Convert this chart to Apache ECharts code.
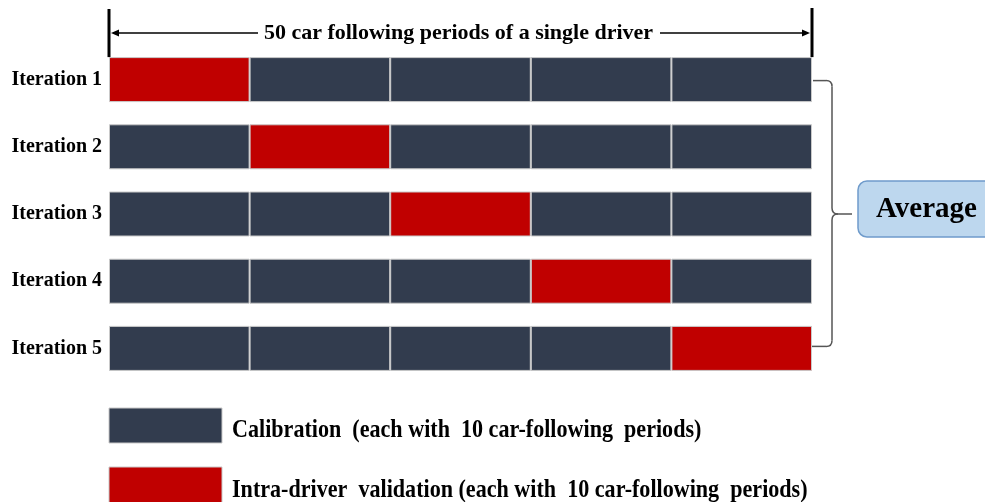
<!DOCTYPE html>
<html>
<head>
<meta charset="utf-8">
<script src="https://cdn.jsdelivr.net/npm/echarts@6/dist/echarts.min.js"></script>
<style>
  html, body { margin: 0; padding: 0; background: #fff; }
  #chart { width: 985px; height: 502px; }
</style>
</head>
<body>
<div id="chart"></div>
<script>
// rows (iterations) and folds of the 50 periods
const iterations = ['Iteration 1', 'Iteration 2', 'Iteration 3', 'Iteration 4', 'Iteration 5']
const folds = ['Fold 1', 'Fold 2', 'Fold 3', 'Fold 4', 'Fold 5']
// periods in each fold
const foldSize = [10, 10, 10, 10, 10]
// which fold is held out for validation in each iteration
const validationFold = [0, 1, 2, 3, 4]
const titleText = '50 car following periods of a single driver'
const legendText = [
  'Calibration  (each with  10 car-following  periods)',
  'Intra-driver  validation (each with  10 car-following  periods)'
]

const calibColor = '#323c4e'
const validColor = '#c00000'
const serif = '"Liberation Serif", "Times New Roman", serif'

const dom = document.getElementById('chart')
const chart = echarts.init(dom, null, { renderer: 'canvas' })

const series = folds.map((name, f) => ({
  name: name,
  type: 'bar',
  stack: 'all',
  barWidth: 45,
  data: iterations.map((it, i) => ({
    value: foldSize[f],
    itemStyle: { color: validationFold[i] === f ? validColor : calibColor }
  })),
  itemStyle: { borderColor: '#c9c9c9', borderWidth: 1 },
  emphasis: { disabled: true }
}))

const option = {
  animation: false,
  backgroundColor: '#fff',
  grid: { left: 109, right: 173, top: 46, bottom: 120 },
  xAxis: {
    type: 'value',
    min: 0,
    max: foldSize.reduce((a, b) => a + b, 0),
    show: false
  },
  yAxis: {
    type: 'category',
    inverse: true,
    data: iterations,
    axisLine: { show: false },
    axisTick: { show: false },
    axisLabel: {
      margin: 7,
      color: '#000',
      fontFamily: serif,
      fontWeight: 'bold',
      fontSize: 20
    }
  },
  series: series
}
chart.setOption(option)

// pixel positions from the axes
const xStart = chart.convertToPixel({ gridIndex: 0 }, [0, 0])[0]
const xEnd = chart.convertToPixel({ gridIndex: 0 }, [option.xAxis.max, 0])[0]
const yTop = chart.convertToPixel({ gridIndex: 0 }, [0, 0])[1]
const yBot = chart.convertToPixel({ gridIndex: 0 }, [0, iterations.length - 1])[1]
const yMid = (yTop + yBot) / 2
const barTop = yTop - 22.5
const arrowY = 33
const titleLeft = 260
const titleRight = 657

const bx = xEnd + 20
const brace = { stroke: '#555', lineWidth: 1.5, fill: null }
const graphics = [
  // span marker
  { type: 'line', shape: { x1: xStart, y1: 9, x2: xStart, y2: barTop }, style: { stroke: '#000', lineWidth: 3 } },
  { type: 'line', shape: { x1: xEnd, y1: 8, x2: xEnd, y2: barTop }, style: { stroke: '#000', lineWidth: 3 } },
  { type: 'line', shape: { x1: xStart + 4, y1: arrowY, x2: titleLeft - 2, y2: arrowY }, style: { stroke: '#000', lineWidth: 1.5 } },
  { type: 'line', shape: { x1: titleRight + 3, y1: arrowY, x2: xEnd - 4, y2: arrowY }, style: { stroke: '#000', lineWidth: 1.5 } },
  { type: 'polygon', shape: { points: [[xStart + 2, arrowY], [xStart + 10, arrowY - 3.5], [xStart + 10, arrowY + 3.5]] }, style: { fill: '#000' } },
  { type: 'polygon', shape: { points: [[xEnd - 2, arrowY], [xEnd - 10, arrowY - 3.5], [xEnd - 10, arrowY + 3.5]] }, style: { fill: '#000' } },
  {
    type: 'text', x: (titleLeft + titleRight) / 2, y: arrowY,
    style: { text: titleText, font: 'bold 22px ' + serif, fill: '#000', align: 'center', verticalAlign: 'middle' }
  },
  // brace
  { type: 'line', shape: { x1: xEnd + 1, y1: yTop + 1, x2: bx - 6, y2: yTop + 1 }, style: brace },
  { type: 'bezierCurve', shape: { x1: bx - 6, y1: yTop + 1, cpx1: bx, cpy1: yTop + 1, x2: bx, y2: yTop + 7 }, style: brace },
  { type: 'line', shape: { x1: bx, y1: yTop + 7, x2: bx, y2: yMid - 6 }, style: brace },
  { type: 'bezierCurve', shape: { x1: bx, y1: yMid - 6, cpx1: bx, cpy1: yMid, x2: bx + 6, y2: yMid }, style: brace },
  { type: 'bezierCurve', shape: { x1: bx, y1: yMid + 6, cpx1: bx, cpy1: yMid, x2: bx + 6, y2: yMid }, style: brace },
  { type: 'line', shape: { x1: bx + 6, y1: yMid, x2: bx + 20, y2: yMid }, style: brace },
  { type: 'line', shape: { x1: bx, y1: yMid + 6, x2: bx, y2: yBot - 8 }, style: brace },
  { type: 'bezierCurve', shape: { x1: bx, y1: yBot - 8, cpx1: bx, cpy1: yBot - 2, x2: bx - 6, y2: yBot - 2 }, style: brace },
  { type: 'line', shape: { x1: bx - 6, y1: yBot - 2, x2: xEnd - 1, y2: yBot - 2 }, style: brace },
  // average box
  {
    type: 'rect', shape: { x: 858, y: yMid - 33, width: 150, height: 56, r: 9 },
    style: { fill: '#bdd7ee', stroke: '#6f9bcb', lineWidth: 1.5 }
  },
  {
    type: 'text', x: 876, y: yMid - 4,
    style: { text: 'Average', font: 'bold 29px ' + serif, fill: '#000', verticalAlign: 'middle' }
  },
  // legend
  { type: 'rect', shape: { x: xStart, y: 408, width: 113, height: 35 }, style: { fill: calibColor, stroke: '#c9c9c9', lineWidth: 1 } },
  { type: 'rect', shape: { x: xStart, y: 467, width: 113, height: 36 }, style: { fill: validColor, stroke: '#c9c9c9', lineWidth: 1 } },
  {
    type: 'text', x: 232, y: 430, scaleX: 0.85,
    style: { text: legendText[0], font: 'bold 26px ' + serif, fill: '#000', verticalAlign: 'middle' }
  },
  {
    type: 'text', x: 232, y: 490, scaleX: 0.85,
    style: { text: legendText[1], font: 'bold 26px ' + serif, fill: '#000', verticalAlign: 'middle' }
  }
]
chart.setOption({ graphic: graphics })

window.addEventListener('resize', () => chart.resize())
</script>
</body>
</html>
